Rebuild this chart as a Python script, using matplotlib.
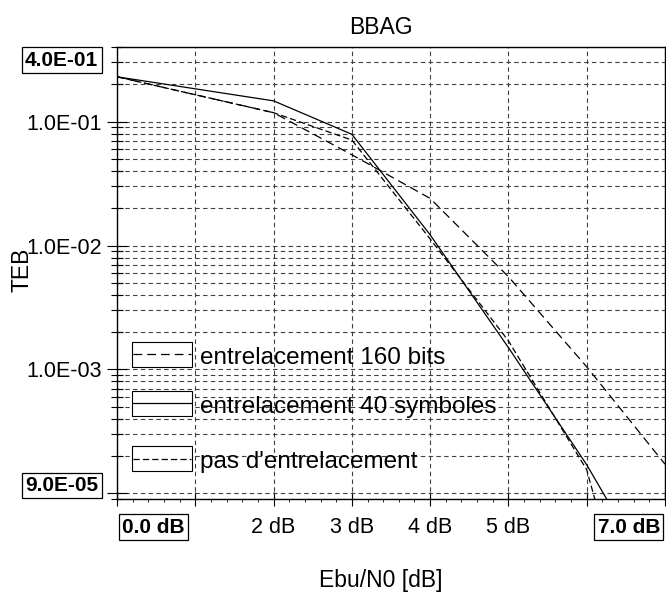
import matplotlib
matplotlib.use('Agg')
import matplotlib.pyplot as plt
from matplotlib.lines import Line2D
from matplotlib.patches import Rectangle
from matplotlib.ticker import FixedLocator, MultipleLocator, LogLocator, NullFormatter

plt.rcParams['font.family'] = ['Liberation Sans', 'DejaVu Sans']

# data (TEB vs Ebu/N0)
ebn0 = [0, 2, 3, 4, 5, 6, 7]
teb_160bits = [2.3e-1, 1.18e-1, 5.4e-2, 2.4e-2, 5.6e-3, 1.05e-3, 1.72e-4]
teb_40sym = [2.3e-1, 1.47e-1, 7.9e-2, 1.22e-2, 1.5e-3, 1.7e-4, 1.4e-5]
teb_sans = [2.3e-1, 1.18e-1, 7.1e-2, 1.13e-2, 1.7e-3, 1.55e-4, 8e-7]
labels = ["entrelacement 160 bits", "entrelacement 40 symboles", "pas d'entrelacement"]

x_ticks = [0, 1, 2, 3, 4, 5, 6, 7]
x_ticklabels = ['', '', '2 dB', '3 dB', '4 dB', '5 dB', '', '']
y_ticks = [1e-1, 1e-2, 1e-3, 1e-4]
y_ticklabels = ['1.0E-01', '1.0E-02', '1.0E-03', '']
x_min, x_max = 0.0, 7.0
y_min, y_max = 9.0e-5, 4.0e-1

W, H = 666, 593
fig = plt.figure(figsize=(W / 100, H / 100), dpi=100)
ax = fig.add_axes([117 / W, 1 - 499 / H, 548 / W, 452 / H])

styles = [(0, (7, 4)), '-', (0, (5, 2.5))]
series = [teb_160bits, teb_40sym, teb_sans]
for y, ls in zip(series, styles):
    ax.plot(ebn0, y, color='black', lw=0.9, linestyle=ls)

ax.set_yscale('log')
ax.set_xlim(x_min, x_max)
ax.set_ylim(y_min, y_max)

ax.yaxis.set_major_locator(FixedLocator(y_ticks))
ax.set_yticklabels(y_ticklabels)
ax.yaxis.set_minor_locator(LogLocator(base=10, subs=range(2, 10)))
ax.yaxis.set_minor_formatter(NullFormatter())
ax.set_xticks(x_ticks)
ax.set_xticklabels(x_ticklabels)
ax.xaxis.set_minor_locator(MultipleLocator(0.2))

ax.tick_params(axis='y', which='major', direction='inout', length=14, width=0.8,
               labelsize=15.5, pad=4)
ax.tick_params(axis='y', which='minor', direction='inout', length=9, width=0.8)
ax.tick_params(axis='x', which='major', direction='inout', length=10, width=0.8,
               labelsize=15.5, pad=8)
ax.tick_params(axis='x', which='minor', direction='out', length=2.2, width=0.6)

ax.grid(which='both', axis='y', linestyle=(0, (4, 3)), color='0.25', lw=0.8)
ax.grid(which='major', axis='x', linestyle=(0, (4, 3)), color='0.25', lw=0.8)
for s in ax.spines.values():
    s.set_linewidth(1.0)

# boxed axis limits
box = dict(boxstyle='square,pad=0.16', fc='white', ec='black', lw=0.9)
limit_labels = [('4.0E-01', -0.1009, 0.9706), ('9.0E-05', -0.1007, 0.0299),
                ('0.0 dB', 0.0660, -0.062), ('7.0 dB', 0.934, -0.062)]
for txt, fx, fy in limit_labels:
    ax.text(fx, fy, txt, transform=ax.transAxes, ha='center', va='center',
            fontsize=15, fontweight='bold', bbox=box, clip_on=False)

# legend: boxed handles, text on top of the grid
box_y = [0.2927, 0.1843, 0.0626]
for by, ls, lab in zip(box_y, styles, labels):
    ax.add_patch(Rectangle((0.0268, by), 0.1106, 0.054, transform=ax.transAxes,
                           fc='white', ec='black', lw=0.8, zorder=5))
    ax.add_line(Line2D([0.030, 0.135], [by + 0.027, by + 0.027], transform=ax.transAxes,
                       color='black', lw=0.9, linestyle=ls, zorder=6))
    ax.text(0.1515, by + 0.006, lab, transform=ax.transAxes, ha='left', va='baseline',
            fontsize=17.5, zorder=6)

fig.text(381 / W, 1 - 27 / H, 'BBAG', ha='center', va='center', fontsize=16.5)
fig.text(381 / W, 1 - 580 / H, 'Ebu/N0 [dB]', ha='center', va='center', fontsize=16.5)
fig.text(22 / W, 1 - 270 / H, 'TEB', ha='center', va='center', rotation=90, fontsize=16.5)

fig.savefig('out.png', dpi=100)
